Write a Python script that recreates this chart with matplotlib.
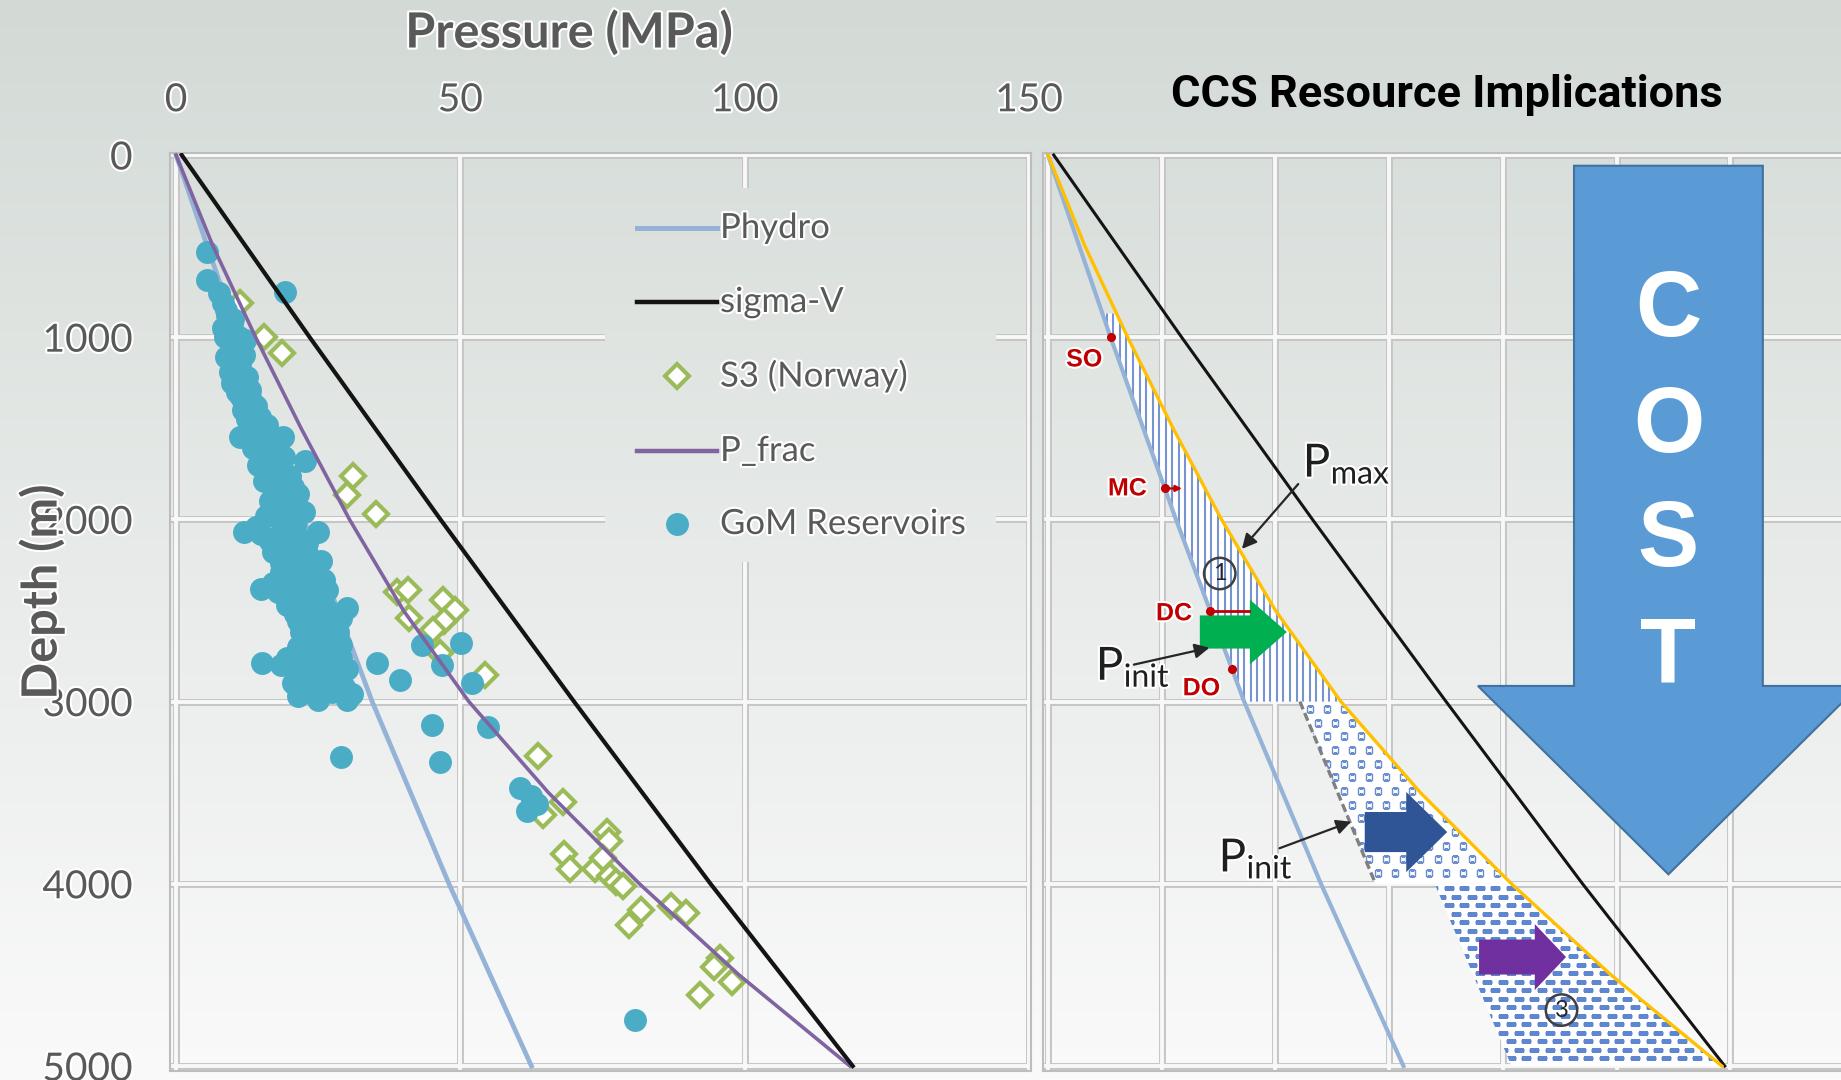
import numpy as np
import matplotlib
matplotlib.use("Agg")
import matplotlib.pyplot as plt
from matplotlib.patches import Polygon
import matplotlib.patheffects as pe

plt.rcParams["font.family"] = ["Lato", "DejaVu Sans"]
plt.rcParams["mathtext.fontset"] = "custom"
plt.rcParams["mathtext.rm"] = "Lato"

# ---------------- data ----------------
depth_grid = [0, 1000, 2000, 3000, 4000, 5000]
p_hydro = [0, 11.0, 22.5, 34.5, 48.0, 62.5]          # MPa
sigma_v = [1.0, 23.5, 46.5, 70.0, 94.0, 119.0]        # MPa

frac_depth = [0, 500, 1000, 1500, 2000, 2500, 3000, 3500, 4000, 4500, 5000]
p_frac = [0, 6.5, 14.0, 22.0, 30.5, 40.0, 51.5, 65.5, 81.5, 99.0, 118.5]

gom_pressure = [5.4, 5.4, 19.2, 8.2, 9.0, 8.3, 9.8, 8.6, 12.1, 10.2, 8.8, 11.2, 9.5,
                9.8, 13.0, 11.5, 11.8, 14.8, 13.0, 11.3, 15.0, 18.8, 13.5, 17.0, 22.7,
                14.5, 18.0, 20.0, 15.5, 18.5, 21.5, 16.5, 19.5, 22.5, 15.8, 18.5, 21.0,
                12.0, 15.0, 18.0, 21.5, 25.0, 17.0, 20.0, 23.0, 25.5, 18.5, 21.5, 24.5,
                15.0, 18.0, 21.0, 24.0, 26.5, 19.5, 22.5, 26.0, 30.0, 21.5, 24.5, 27.5,
                22.0, 25.0, 28.5, 21.5, 24.5, 27.5, 15.2, 18.5, 21.5, 24.5, 27.5, 30.0,
                35.3, 39.4, 43.2, 50.2, 46.7, 52.0, 20.5, 23.5, 26.5, 29.5, 21.5, 25.0,
                30.0, 45.0, 54.9, 29.1, 46.4, 60.5, 62.5, 63.5, 61.8, 80.8,
                7.5, 8.8, 10.0, 9.2, 11.0, 9.8, 12.0, 10.5, 12.5, 10.8, 12.8, 14.0,
                12.5, 16.0, 14.0, 16.5, 15.5, 19.0, 16.0, 20.5, 17.5, 19.5, 17.8, 20.5,
                14.0, 16.5, 19.5, 23.0, 18.5, 21.5, 24.0, 17.0, 20.0, 23.0, 26.0,
                21.0, 24.0, 27.0, 29.0, 23.5, 26.5, 29.0, 19.5, 23.0, 26.0, 29.0,
                22.0, 25.0, 28.0, 23.0, 27.5, 31.0]
gom_depth = [531, 686, 750, 810, 880, 950, 930, 1000, 1015, 1050, 1110, 1140, 1190,
             1250, 1290, 1330, 1400, 1436, 1480, 1546, 1540, 1546, 1610, 1620, 1680,
             1700, 1710, 1760, 1790, 1820, 1860, 1900, 1930, 1960, 1980, 2010, 2030,
             2070, 2080, 2090, 2100, 2070, 2180, 2200, 2190, 2230, 2290, 2310, 2320,
             2380, 2400, 2420, 2400, 2390, 2470, 2480, 2470, 2488, 2560, 2580, 2560,
             2620, 2640, 2620, 2700, 2720, 2700, 2789, 2800, 2830, 2810, 2840, 2820,
             2790, 2881, 2689, 2680, 2799, 2900, 2900, 2930, 2900, 2920, 2970, 2990,
             2990, 3128, 3138, 3302, 3330, 3476, 3520, 3560, 3600, 4745,
             760, 850, 900, 980, 1000, 1080, 1100, 1170, 1220, 1300, 1350, 1380,
             1450, 1480, 1520, 1580, 1650, 1660, 1740, 1820, 1850, 1880, 1960, 1990,
             2040, 2120, 2140, 2130, 2240, 2260, 2260, 2350, 2360, 2350, 2330,
             2520, 2520, 2510, 2540, 2670, 2680, 2690, 2760, 2770, 2760, 2760,
             2870, 2860, 2870, 2950, 2950, 2960]

s3_pressure = [11.2, 15.5, 18.6, 31.1, 30.1, 35.1, 38.8, 40.8, 47.0, 49.1, 40.9, 47.2,
               45.2, 46.4, 54.3, 63.7, 68.1, 64.6, 75.8, 76.2, 68.3, 69.2, 73.6, 75.0,
               76.4, 77.4, 78.6, 81.8, 79.6, 87.0, 89.6, 95.6, 94.6, 97.8, 92.1]
s3_depth = [812, 1000, 1084, 1764, 1868, 1973, 2397, 2390, 2442, 2497, 2543, 2560,
            2607, 2735, 2854, 3300, 3549, 3620, 3714, 3765, 3837, 3918, 3918, 3860,
            3959, 3990, 4010, 4143, 4224, 4122, 4163, 4408, 4459, 4541, 4612]

pressure_ticks = [0, 50, 100, 150]
depth_ticks = [0, 1000, 2000, 3000, 4000, 5000]
legend_labels = ["Phydro", "sigma-V", "S3 (Norway)", "P_frac", "GoM Reservoirs"]

# right panel: storage-scenario sketch
event_labels = ["SO", "MC", "DC", "DO"]
event_depths = [1000, 1830, 2500, 2820]
pinit2_depth = [3000, 4000]
pinit2_p = [44.3, 57.6]
zone3_depth = [4000, 5000]
zone3_left = [68.0, 81.5]
cost_letters = ["C", "O", "S", "T"]

# ---------------- styling ----------------
W, H = 1841, 1080
PX_MPA = 5.6867      # pixels per MPa
PX_M = 0.1822        # pixels per metre
C_HYDRO = "#95B3D7"
C_SIGMA = "#141414"
C_FRAC = "#8064A2"
C_GOM = "#4BACC6"
C_S3 = "#9BBB59"
C_PMAX = "#FFC000"
TXT = "#595959"
halo = [pe.withStroke(linewidth=3, foreground="#FFFFFF")]

fig = plt.figure(figsize=(W / 100, H / 100), dpi=100)


def rect(x0, y0, x1, y1):
    return [x0 / W, 1 - y1 / H, (x1 - x0) / W, (y1 - y0) / H]


# slide background gradient
top_c = np.array([211, 218, 214]) / 255
bot_c = np.array([250, 250, 250]) / 255
tt = np.linspace(0, 1, H)[:, None, None]
grad = top_c + (bot_c - top_c) * tt
bg = fig.add_axes([0, 0, 1, 1], zorder=0)
bg.imshow(grad, aspect="auto", extent=[0, W, H, 0])
bg.set_xlim(0, W)
bg.set_ylim(H, 0)
bg.axis("off")


def make_panel(x0, x1, zero_x, y0=153, y1=1071, zero_y=155):
    ax = fig.add_axes(rect(x0, y0, x1, y1), zorder=1)
    ax.set_facecolor("none")
    ax.set_xlim((x0 - zero_x) / PX_MPA, (x1 - zero_x) / PX_MPA)
    ax.set_ylim((y1 - zero_y) / PX_M, (y0 - zero_y) / PX_M)
    for s in ax.spines.values():
        s.set_color("#BDBDBD")
        s.set_linewidth(1.5)
    return ax


def double_grid(ax, xs, ys):
    for x in xs:
        ax.axvline(x, color="#C6C6C6", lw=5.0, zorder=0.5)
    for y in ys:
        ax.axhline(y, color="#C6C6C6", lw=5.0, zorder=0.5)
    for x in xs:
        ax.axvline(x, color="#F7F8F7", lw=2.8, zorder=0.6)
    for y in ys:
        ax.axhline(y, color="#F7F8F7", lw=2.8, zorder=0.6)


# ---------------- left panel ----------------
axL = make_panel(170, 1031, 176)
double_grid(axL, pressure_ticks, depth_ticks)
axL.xaxis.tick_top()
axL.set_xticks(pressure_ticks)
axL.set_xticklabels([str(v) for v in pressure_ticks])
axL.set_yticks(depth_ticks)
axL.set_yticklabels([str(v) for v in depth_ticks])
axL.tick_params(axis="x", length=0, pad=25, labelsize=28, labelcolor=TXT)
axL.tick_params(axis="y", length=0, pad=27, labelsize=28, labelcolor=TXT)
for lab in axL.get_xticklabels() + axL.get_yticklabels():
    lab.set_path_effects(halo)

axL.plot(p_hydro, depth_grid, color=C_HYDRO, lw=3.4, zorder=2)
axL.plot(s3_pressure, s3_depth, ls="none", marker="D", ms=12, mfc="white",
         mec=C_S3, mew=3.0, zorder=3)
axL.plot(gom_pressure, gom_depth, ls="none", marker="o", ms=16.5, color=C_GOM,
         mec="none", zorder=4)
axL.plot(p_frac, frac_depth, color=C_FRAC, lw=2.6, zorder=5)
axL.plot(sigma_v, depth_grid, color=C_SIGMA, lw=3.0, zorder=6)

# legend on a patch of slide background (hides the grid behind it)
lx0, ly0, lx1, ly1 = 605, 188, 996, 562
leg = fig.add_axes(rect(lx0, ly0, lx1, ly1), zorder=2)
leg.imshow(grad[ly0:ly1], aspect="auto", extent=[lx0, lx1, ly1, ly0])
leg.set_xlim(lx0, lx1)
leg.set_ylim(ly1, ly0)
leg.axis("off")
rows = [228, 302, 376, 451, 524]
leg.plot([637, 717], [rows[0]] * 2, color=C_HYDRO, lw=3.6)
leg.plot([637, 717], [rows[1]] * 2, color=C_SIGMA, lw=3.2)
leg.plot([677], [rows[2]], marker="D", ms=12, mfc="white", mec=C_S3, mew=3.0)
leg.plot([637, 717], [rows[3]] * 2, color=C_FRAC, lw=3.2)
leg.plot([677], [rows[4]], marker="o", ms=16.5, color=C_GOM, mec="none")
for r, lab in zip(rows, legend_labels):
    leg.text(720, r, lab, fontsize=25, color=TXT, va="center", ha="left",
             path_effects=halo)

fig.text(569 / W, 1 - 32 / H, "Pressure (MPa)", fontsize=35, fontweight="bold",
         color=TXT, ha="center", va="center", path_effects=halo)
fig.text(41 / W, 1 - 592 / H, "Depth (m)", fontsize=35, fontweight="bold",
         color=TXT, ha="center", va="center", rotation=90, path_effects=halo)

# ---------------- right panel ----------------
axR = make_panel(1043, W, 1048)
axR.spines["right"].set_visible(False)
axR.set_xticks([])
axR.set_yticks([])
double_grid(axR, [0, 20, 40, 60, 80, 100, 120], depth_ticks)

# zone 1: between hydrostatic and maximum pressure, 870-3000 m
d1 = np.linspace(870, 3000, 80)
z1 = list(zip(np.interp(d1, depth_grid, p_hydro), d1)) + \
     list(zip(np.interp(d1[::-1], frac_depth, p_frac), d1[::-1]))
zone1 = Polygon(z1, closed=True, fc="white", ec="none", zorder=1.5)
axR.add_patch(zone1)
stripes = axR.vlines(np.arange(0, 60, 1.15), 0, 3100, color="#7794D1", lw=1.5,
                     zorder=1.6)
stripes.set_clip_path(zone1)

# zone 2: dotted, 3000-4000 m
d2 = np.linspace(3000, 4000, 40)
z2 = list(zip(np.interp(d2, pinit2_depth, pinit2_p), d2)) + \
     list(zip(np.interp(d2[::-1], frac_depth, p_frac), d2[::-1]))
zone2 = Polygon(z2, closed=True, fc="white", ec="none", zorder=1.5)
axR.add_patch(zone2)
gx, gy = [], []
for i, yy in enumerate(np.arange(3040, 4000, 75)):
    for xx in np.arange(40 + 1.5 * (i % 2), 90, 3.0):
        gx.append(xx)
        gy.append(yy)
dots = axR.scatter(gx, gy, marker="s", s=13, facecolor="white",
                   edgecolor="#6A8ED0", linewidths=1.0, zorder=1.6)
dots.set_clip_path(zone2)

# zone 3: dashed, 4000-5000 m
d3 = np.linspace(4000, 5000, 40)
z3 = list(zip(np.interp(d3, zone3_depth, zone3_left), d3)) + \
     list(zip(np.interp(d3[::-1], frac_depth, p_frac), d3[::-1]))
zone3 = Polygon(z3, closed=True, fc="white", ec="none", zorder=1.5)
axR.add_patch(zone3)
hx, hy = [], []
for i, yy in enumerate(np.arange(4025, 5000, 46.6)):
    for xx in np.arange(65 + 1.36 * (i % 2), 125, 2.73):
        hx.append(xx)
        hy.append(yy)
dashes = axR.scatter(hx, hy, marker="_", s=55, color="#5F87D0", linewidths=2.2,
                     zorder=1.6)
dashes.set_clip_path(zone3)

axR.plot(pinit2_p, pinit2_depth, color="#808080", lw=2.4, ls=(0, (2.5, 1.2)),
         zorder=3)
axR.plot(p_hydro, depth_grid, color=C_HYDRO, lw=3.0, zorder=3)
axR.plot(sigma_v, depth_grid, color=C_SIGMA, lw=2.2, zorder=3)
axR.plot(p_frac, frac_depth, color=C_PMAX, lw=2.4, zorder=3.5)

# depth events on the hydrostatic line
ev_p = np.interp(event_depths, depth_grid, p_hydro)
axR.plot(ev_p, event_depths, ls="none", marker="o", ms=5.5, color="#C00000",
         zorder=7)
offsets = [(-19, -16), (-27, 0), (-26, -2), (-22, -14)]
for lab, p, d, off in zip(event_labels, ev_p, event_depths, offsets):
    axR.annotate(lab, xy=(p, d), xytext=off, textcoords="offset points",
                 ha="center", va="center", fontsize=18, fontweight="bold",
                 color="#C00000", family="Liberation Sans", zorder=8,
                 path_effects=halo)
axR.annotate("", xy=(ev_p[1] + 3.0, event_depths[1]), xytext=(ev_p[1], event_depths[1]),
             arrowprops=dict(arrowstyle="-|>", color="#C00000", lw=1.6,
                             mutation_scale=9, shrinkA=0, shrinkB=0), zorder=8)
axR.plot([ev_p[2], 35.3], [event_depths[2]] * 2, color="#C00000", lw=2.0, zorder=7)


def block_arrow(ax, x0, xb, xt, yc, hs, hh, color):
    verts = [(x0, yc - hs), (xb, yc - hs), (xb, yc - hh), (xt, yc),
             (xb, yc + hh), (xb, yc + hs), (x0, yc + hs)]
    ax.add_patch(Polygon(verts, closed=True, fc=color, ec="none", zorder=6))


block_arrow(axR, 26.7, 35.5, 42.0, 2618, 91, 178, "#00B050")
block_arrow(axR, 55.7, 63.0, 70.2, 3716, 110, 220, "#2F5597")
block_arrow(axR, 75.8, 85.6, 91.1, 4402, 96, 181, "#7030A0")

# pressure labels with pointer arrows
mt = dict(fontsize=33, color="#1F1F1F", ha="left", va="baseline", zorder=9,
          path_effects=halo)
axR.text(44.8, 1766, r"$\mathregular{P_{max}}$", **mt)
axR.text(8.4, 2881, r"$\mathregular{P_{init}}$", **mt)
axR.text(30.0, 3933, r"$\mathregular{P_{init}}$", **mt)
ap = dict(arrowstyle="-|>", color="#262626", lw=1.6, mutation_scale=22,
          shrinkA=0, shrinkB=0)
axR.annotate("", xy=(34.1, 2162), xytext=(44.0, 1806), arrowprops=ap, zorder=9)
axR.annotate("", xy=(28.4, 2704), xytext=(15.1, 2797), arrowprops=ap, zorder=9)
axR.annotate("", xy=(53.3, 3659), xytext=(40.7, 3805), arrowprops=ap, zorder=9)

for num, (p, d) in zip(["1", "3"], [(30.2, 2297), (90.3, 4693)]):
    axR.text(p, d, num, fontsize=17, color="#262626", ha="center", va="center",
             zorder=9, bbox=dict(boxstyle="circle,pad=0.22", fc="none",
                                 ec="#404040", lw=1.8))

# cost arrow
cost = [(92.5, 59), (125.7, 59), (125.7, 2914), (142.6, 2914), (109.1, 3948),
        (75.6, 2914), (92.5, 2914)]
axR.add_patch(Polygon(cost, closed=True, fc="#5B9BD5", ec="#41719C", lw=1.5,
                      zorder=10))
for letter, d in zip(cost_letters, [859, 1499, 2125, 2762]):
    axR.text(109.1, d, letter, fontsize=66, fontweight="bold", color="white",
             family="Liberation Sans", ha="center", va="center", zorder=11)

fig.text(1447 / W, 1 - 95 / H, "CCS Resource Implications", fontsize=32.5,
         fontweight="bold", family="Roboto", color="black", ha="center",
         va="center")

fig.savefig("out.png", dpi=100)
